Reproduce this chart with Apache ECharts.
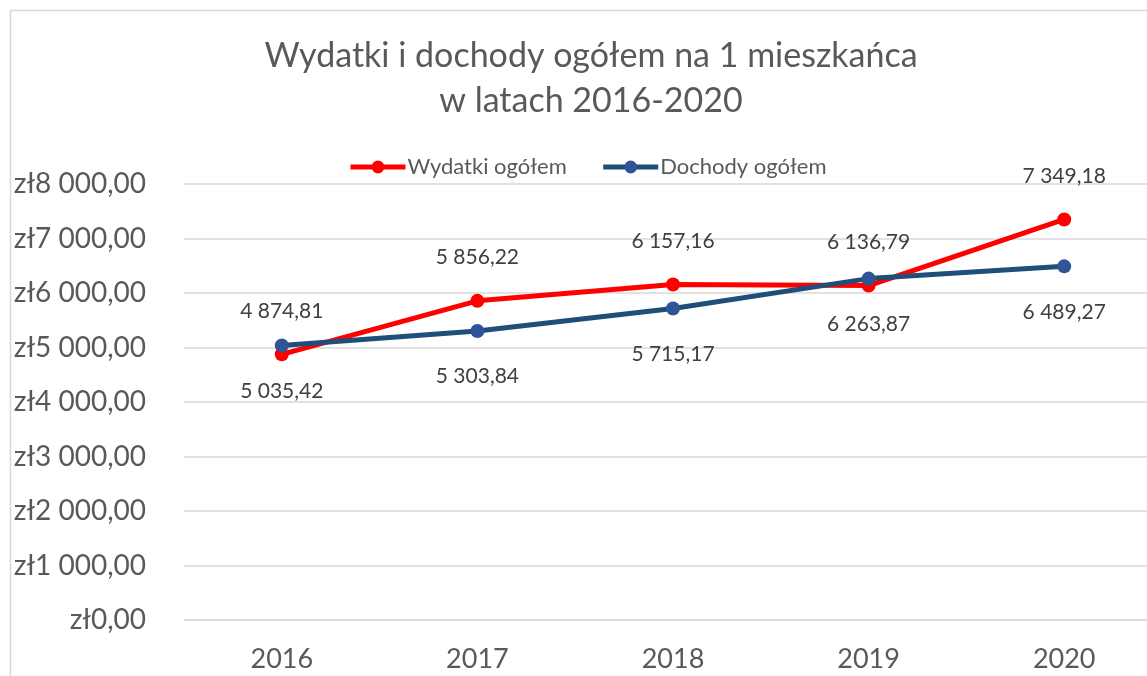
<!DOCTYPE html>
<html>
<head>
<meta charset="utf-8">
<script src="https://cdn.jsdelivr.net/npm/echarts@6/dist/echarts.min.js"></script>
<style>
  html, body { margin: 0; padding: 0; background: #fff; }
  #chart { width: 1147px; height: 676px; }
</style>
</head>
<body>
<div id="chart"></div>
<script>
const years = ['2016', '2017', '2018', '2019', '2020'];
const wydatki = [4874.81, 5856.22, 6157.16, 6136.79, 7349.18];
const dochody = [5035.42, 5303.84, 5715.17, 6263.87, 6489.27];
const yTicks = [0, 1000, 2000, 3000, 4000, 5000, 6000, 7000, 8000];

const FONT = 'Lato, "Open Sans", sans-serif';

// 4874.81 -> "4 874,81"
function plNum(v) {
  const parts = v.toFixed(2).split('.');
  const intPart = parts[0].replace(/\B(?=(\d{3})+(?!\d))/g, ' ');
  return intPart + ',' + parts[1];
}

const chart = echarts.init(document.getElementById('chart'));

const option = {
  backgroundColor: '#fff',
  animation: false,
  textStyle: { fontFamily: FONT },
  title: {
    text: 'Wydatki i dochody ogółem na 1 mieszkańca\nw latach 2016-2020',
    left: 586,
    top: 29,
    textAlign: 'center',
    textStyle: {
      fontFamily: FONT,
      fontSize: 34,
      fontWeight: 'normal',
      color: '#595959',
      lineHeight: 45
    }
  },
  legend: {
    left: 343,
    top: 151,
    itemWidth: 55,
    itemHeight: 16,
    itemGap: 34,
    lineStyle: { width: 5 },
    textStyle: { fontFamily: FONT, fontSize: 22, color: '#595959', padding: [0, 0, 0, -3] },
    data: ['Wydatki ogółem', 'Dochody ogółem']
  },
  graphic: [{
    type: 'rect',
    shape: { x: 10.5, y: 10.5, width: 1300, height: 800 },
    style: { fill: 'none', stroke: '#d9d9d9', lineWidth: 1.5 },
    silent: true
  }],
  grid: {
    left: 184,
    width: 978,
    top: 184,
    bottom: 56,
    containLabel: false,
    outerBoundsMode: 'none'
  },
  xAxis: {
    type: 'category',
    data: years,
    boundaryGap: true,
    axisLine: { show: true, lineStyle: { color: '#d9d9d9', width: 1.5 } },
    axisTick: { show: false },
    axisLabel: { fontFamily: FONT, fontSize: 27, color: '#595959', margin: 26 }
  },
  yAxis: {
    type: 'value',
    min: yTicks[0],
    max: yTicks[yTicks.length - 1],
    interval: yTicks[1] - yTicks[0],
    axisLine: { show: false },
    axisTick: { show: false },
    splitLine: { lineStyle: { color: '#d9d9d9', width: 1.5 } },
    axisLabel: {
      fontFamily: FONT,
      fontSize: 28,
      color: '#595959',
      margin: 38,
      formatter: v => 'zł' + plNum(v)
    }
  },
  series: [
    {
      name: 'Wydatki ogółem',
      type: 'line',
      data: wydatki,
      symbol: 'circle',
      symbolSize: 14,
      lineStyle: { color: '#ff0000', width: 5 },
      itemStyle: { color: '#ff0000' },
      label: {
        show: true,
        position: 'top',
        distance: 26,
        fontFamily: FONT,
        fontSize: 21,
        color: '#404040',
        formatter: p => plNum(p.value)
      }
    },
    {
      name: 'Dochody ogółem',
      type: 'line',
      data: dochody,
      symbol: 'circle',
      symbolSize: 14,
      lineStyle: { color: '#1f4e79', width: 5 },
      itemStyle: { color: '#2f5597' },
      label: {
        show: true,
        position: 'bottom',
        distance: 28,
        fontFamily: FONT,
        fontSize: 21,
        color: '#404040',
        formatter: p => plNum(p.value)
      }
    }
  ]
};

chart.setOption(option);
</script>
</body>
</html>
